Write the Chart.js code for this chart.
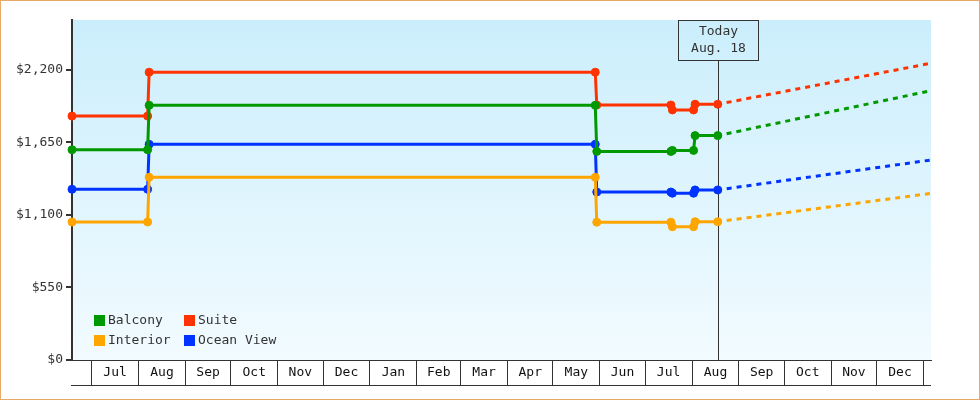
<!DOCTYPE html>
<html>
<head>
<meta charset="utf-8">
<title>Cabin prices</title>
<script src="https://cdn.jsdelivr.net/npm/chart.js@4"></script>
<style>
  html, body { margin: 0; padding: 0; background: #fff; }
  #wrap { width: 980px; height: 400px; position: relative; }
</style>
</head>
<body>
<div id="wrap"><canvas id="priceChart"></canvas></div>
<script>
const monthLabels = ['Jul', 'Aug', 'Sep', 'Oct', 'Nov', 'Dec', 'Jan', 'Feb', 'Mar', 'Apr', 'May', 'Jun',
                     'Jul', 'Aug', 'Sep', 'Oct', 'Nov', 'Dec'];
const yTicks = [0, 550, 1100, 1650, 2200];

const priceDates = ['2023-06-18', '2023-08-07', '2023-08-08', '2024-05-29', '2024-05-30',
                    '2024-07-18', '2024-07-19', '2024-08-02', '2024-08-03', '2024-08-18'];
const balcony   = [1595, 1595, 1932, 1932, 1582, 1582, 1590, 1590, 1702, 1702];
const suite     = [1850, 1850, 2183, 2183, 1934, 1934, 1897, 1897, 1940, 1940];
const interior  = [1047, 1047, 1386, 1386, 1045, 1045, 1011, 1011, 1049, 1049];
const oceanView = [1295, 1295, 1636, 1636, 1274, 1274, 1265, 1265, 1290, 1290];

const forecastDates = ['2024-08-18', '2025-01-06'];
const balconyForecast   = [1702, 2043];
const suiteForecast     = [1940, 2251];
const interiorForecast  = [1049, 1264];
const oceanViewForecast = [1290, 1517];

const todayDate = '2024-08-18';
const todayLabel = ['Today', 'Aug. 18'];
const xStart = '2023-06-18';
const xEnd = '2025-01-06';

const colors = {
  balcony: '#009900',
  suite: '#ff3300',
  interior: '#ffa500',
  oceanView: '#0033ff',
  ink: '#333333',
  frame: '#e9a968'
};
const FONT = '13px "DejaVu Sans Mono", monospace';

// days since 1 Jul 2023, used as a plain linear x value
const base = Date.UTC(2023, 6, 1);
const day = s => (Date.parse(s) - base) / 864e5;
const points = (dates, values) => dates.map((d, i) => ({ x: day(d), y: values[i] }));

function priceSet(label, values, color) {
  return {
    label, legend: true,
    data: points(priceDates, values),
    borderColor: color, backgroundColor: color,
    borderWidth: 3,
    pointStyle: 'circle', pointRadius: 4, pointBorderWidth: 1,
    pointBackgroundColor: color, pointBorderColor: color,
    tension: 0, clip: false
  };
}

function forecastSet(values, color) {
  return {
    label: '', legend: false,
    data: points(forecastDates, values),
    borderColor: color,
    borderWidth: 3, borderDash: [5, 5], borderDashOffset: 1,
    pointRadius: 0, tension: 0, clip: false
  };
}

const chartBackground = {
  id: 'chartBackground',
  beforeDraw(chart) {
    const { ctx, chartArea: a, width, height } = chart;
    ctx.save();
    ctx.fillStyle = '#fff';
    ctx.fillRect(0, 0, width, height);
    const g = ctx.createLinearGradient(0, a.top, 0, a.bottom);
    g.addColorStop(0, '#cbeefc');
    g.addColorStop(1, '#f2fbff');
    ctx.fillStyle = g;
    ctx.fillRect(a.left, a.top, a.right - a.left, a.bottom - a.top);
    ctx.restore();
  },
  afterDraw(chart) {
    const { ctx, chartArea: a, width, height } = chart;
    ctx.save();
    // bottom edge of the month boxes
    ctx.strokeStyle = colors.ink;
    ctx.lineWidth = 1;
    ctx.beginPath();
    ctx.moveTo(a.left - 1, a.bottom + 25.5);
    ctx.lineTo(a.right, a.bottom + 25.5);
    ctx.stroke();
    ctx.strokeStyle = colors.frame;
    ctx.strokeRect(0.5, 0.5, width - 1, height - 1);
    ctx.restore();
  }
};

const todayMarker = {
  id: 'todayMarker',
  beforeDatasetsDraw(chart) {
    const { ctx, chartArea: a } = chart;
    const x = Math.round(chart.scales.x.getPixelForValue(day(todayDate))) + 0.5;
    ctx.save();
    ctx.strokeStyle = colors.ink;
    ctx.lineWidth = 1;
    ctx.beginPath();
    ctx.moveTo(x, a.top + 40);
    ctx.lineTo(x, a.bottom);
    ctx.stroke();
    ctx.strokeRect(x - 40, a.top + 0.5, 80, 40);
    ctx.fillStyle = colors.ink;
    ctx.font = FONT;
    ctx.textAlign = 'center';
    ctx.textBaseline = 'middle';
    ctx.fillText(todayLabel[0], x, a.top + 12);
    ctx.fillText(todayLabel[1], x, a.top + 29);
    ctx.restore();
  }
};

const boxLegend = {
  id: 'boxLegend',
  afterDatasetsDraw(chart) {
    const { ctx, chartArea: a } = chart;
    const items = chart.data.datasets.filter(ds => ds.legend);
    ctx.save();
    ctx.font = FONT;
    ctx.textBaseline = 'middle';
    ctx.textAlign = 'left';
    items.forEach((ds, i) => {
      const bx = a.left + 22 + (i % 2) * 90;
      const by = a.bottom - 45 + Math.floor(i / 2) * 20;
      ctx.fillStyle = ds.borderColor;
      ctx.fillRect(bx, by, 11, 11);
      ctx.fillStyle = colors.ink;
      ctx.fillText(ds.label, bx + 14, by + 6);
    });
    ctx.restore();
  }
};

function monthTicks() {
  const ticks = [];
  for (let i = 0; i <= monthLabels.length; i++) {
    const start = (Date.UTC(2023, 6 + i, 1) - base) / 864e5;
    ticks.push({ value: start, edge: true });
    if (i < monthLabels.length) {
      const next = (Date.UTC(2023, 7 + i, 1) - base) / 864e5;
      ticks.push({ value: (start + next) / 2, name: monthLabels[i] });
    }
  }
  return ticks;
}

function initializeChart() {
  const ctx = document.getElementById('priceChart').getContext('2d');
  new Chart(ctx, {
    type: 'line',
    data: {
      datasets: [
        priceSet('Balcony', balcony, colors.balcony),
        priceSet('Suite', suite, colors.suite),
        priceSet('Interior', interior, colors.interior),
        priceSet('Ocean View', oceanView, colors.oceanView),
        forecastSet(balconyForecast, colors.balcony),
        forecastSet(suiteForecast, colors.suite),
        forecastSet(interiorForecast, colors.interior),
        forecastSet(oceanViewForecast, colors.oceanView)
      ]
    },
    options: {
      responsive: true,
      maintainAspectRatio: false,
      animation: false,
      layout: { padding: { top: 20, right: 49, bottom: 14, left: 0 } },
      plugins: { legend: { display: false }, tooltip: { enabled: false } },
      scales: {
        x: {
          type: 'linear',
          min: day(xStart),
          max: day(xEnd),
          afterBuildTicks: scale => { scale.ticks = monthTicks(); },
          afterFit: scale => { scale.height = 26; },
          grid: {
            drawOnChartArea: false,
            tickLength: 25,
            color: c => (c.tick && c.tick.edge ? colors.ink : 'rgba(0,0,0,0)')
          },
          border: { color: colors.ink, width: 1 },
          ticks: {
            autoSkip: false,
            maxRotation: 0,
            padding: -20,
            color: '#111',
            font: { family: '"DejaVu Sans Mono", monospace', size: 13 },
            callback: (v, i, ticks) => ticks[i].name || ''
          }
        },
        y: {
          min: 0,
          max: 2579,
          afterBuildTicks: scale => { scale.ticks = yTicks.map(v => ({ value: v })); },
          afterFit: scale => { scale.width = 72; },
          grid: { drawOnChartArea: false, tickLength: 6, color: colors.ink, lineWidth: 2 },
          border: { color: colors.ink, width: 2 },
          ticks: {
            padding: 3,
            color: colors.ink,
            font: { family: '"DejaVu Sans Mono", monospace', size: 13 },
            callback: v => '$' + v.toLocaleString('en-US')
          }
        }
      }
    },
    plugins: [chartBackground, todayMarker, boxLegend]
  });
}

document.addEventListener('DOMContentLoaded', initializeChart);
</script>
</body>
</html>
